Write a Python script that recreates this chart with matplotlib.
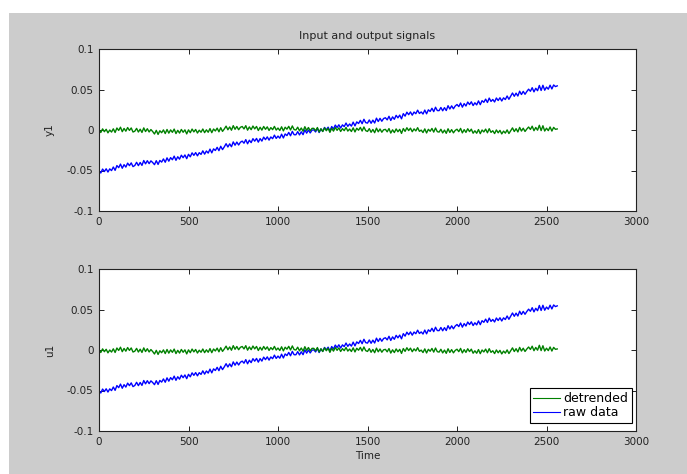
import matplotlib.pyplot as plt
import numpy as np
from matplotlib.patches import Rectangle

# raw output record, every 10th sample, in units of 1e-3
raw_milli = [
    -50.0, -53.1, -48.2, -51.3, -47.9, -51.9, -48.0, -50.1, -45.7, -49.8,
    -43.9, -46.5, -42.1, -47.2, -42.8, -45.8, -40.9, -44.0, -40.6, -45.2,
    -43.8, -39.9, -44.0, -40.1, -43.7, -37.7, -41.8, -37.9, -41.5, -38.1,
    -40.2, -42.8, -37.9, -42.5, -37.6, -39.6, -35.7, -39.8, -34.4, -38.5,
    -34.1, -36.7, -32.3, -37.4, -33.0, -36.0, -31.1, -34.2, -30.8, -35.4,
    -30.0, -33.1, -28.2, -31.3, -27.9, -31.9, -28.0, -30.1, -25.7, -29.8,
    -25.9, -28.5, -23.6, -28.2, -23.3, -25.3, -21.4, -25.5, -20.1, -24.2,
    -20.8, -16.9, -21.0, -17.1, -20.7, -14.7, -18.8, -14.9, -18.5, -15.1,
    -13.7, -16.3, -11.9, -17.0, -12.6, -15.6, -10.7, -13.8, -10.4, -15.0,
    -10.6, -13.7, -8.8, -11.9, -8.5, -12.5, -8.6, -10.7, -6.3, -10.4,
    -7.5, -10.1, -5.2, -9.8, -4.9, -6.9, -3.0, -7.1, -1.7, -5.8,
    -5.9, -2.0, -6.1, -2.2, -5.8, 0.2, -3.9, 0.0, -3.6, -0.2,
    0.2, -2.4, 2.0, -3.1, 1.3, -1.7, 3.2, 0.1, 3.5, -1.1,
    4.3, 1.2, 6.1, 3.0, 6.4, 2.4, 6.3, 4.2, 8.6, 4.5,
    7.4, 4.8, 9.7, 5.1, 10.0, 8.0, 11.9, 7.8, 13.2, 9.1,
    8.5, 12.4, 8.3, 12.2, 8.6, 14.6, 10.5, 14.4, 10.8, 14.2,
    15.1, 12.5, 16.9, 11.8, 16.2, 13.2, 18.1, 15.0, 18.4, 13.8,
    20.2, 17.1, 22.0, 18.9, 22.3, 18.3, 22.2, 20.1, 24.5, 20.4,
    22.3, 19.7, 24.6, 20.0, 24.9, 22.9, 26.8, 22.7, 28.1, 24.0,
    23.9, 27.8, 23.7, 27.6, 24.0, 30.0, 25.9, 29.8, 26.2, 29.6,
    31.5, 28.9, 33.3, 28.2, 32.6, 29.6, 34.5, 31.4, 34.8, 30.2,
    33.6, 31.0, 35.9, 31.3, 36.2, 34.2, 38.1, 34.0, 39.4, 35.3,
    37.7, 34.6, 39.5, 36.4, 39.8, 35.8, 39.7, 37.6, 42.0, 37.9,
    41.8, 45.7, 41.6, 45.5, 41.9, 47.9, 43.8, 47.7, 44.1, 47.5,
    50.4, 47.8, 52.2, 47.1, 51.5, 48.5, 55.0, 48.8, 55.2, 49.1,
    53.0, 50.4, 55.3, 50.7, 55.6, 53.6, 54.5,
]
sample_step = 10

xticks = [0, 500, 1000, 1500, 2000, 2500, 3000]
yticks = [-0.1, -0.05, 0, 0.05, 0.1]
ytick_labels = ['-0.1', '-0.05', '0', '0.05', '0.1']
channel_names = ['y1', 'u1']
legend_labels = ['detrended', 'raw data']

raw = np.array(raw_milli) * 1e-3
t = np.arange(len(raw)) * sample_step

# remove the least-squares straight line
coef = np.polyfit(t, raw, 1)
detrended = raw - np.polyval(coef, t)

W, H = 687, 474
fig = plt.figure(figsize=(W / 100, H / 100), dpi=100)
fig.add_artist(Rectangle((9 / W, 0), 1, 1 - 13 / H, transform=fig.transFigure,
                         facecolor='#cccccc', edgecolor='none', zorder=-10))

ax_left = 99 / W
ax_width = (636 - 99) / W
ax_height = 162 / H
tops = [49, 269]

axes = []
for top, name in zip(tops, channel_names):
    ax = fig.add_axes([ax_left, 1 - (top + 162) / H, ax_width, ax_height])
    ax.set_facecolor('white')
    h_raw, = ax.plot(t, raw, color='#0000ff', linewidth=1.0)
    h_det, = ax.plot(t, detrended, color='#008000', linewidth=1.0)
    ax.set_xlim(0, 3000)
    ax.set_ylim(-0.1, 0.1)
    ax.set_xticks(xticks)
    ax.set_xticklabels([str(v) for v in xticks])
    ax.set_yticks(yticks)
    ax.set_yticklabels(ytick_labels)
    ax.tick_params(direction='in', length=3.8, width=0.7, labelsize=7.5,
                   top=True, right=True, colors='#222222', pad=4)
    for sp in ax.spines.values():
        sp.set_color('#222222')
        sp.set_linewidth(0.8)
    ax.set_ylabel(name, fontsize=7.5, color='#222222')
    ax.yaxis.set_label_coords(-0.082, 0.5)
    axes.append(ax)

axes[0].set_title('Input and output signals', fontsize=8, color='#222222', pad=7)
axes[1].set_xlabel('Time', fontsize=7.5, color='#222222', labelpad=3)

leg = axes[1].legend([h_det, h_raw], legend_labels, loc='lower right',
                     bbox_to_anchor=(1 - 4 / 537, 8 / 162), borderaxespad=0,
                     fontsize=9, fancybox=False, framealpha=1, edgecolor='black',
                     handlelength=2.1, handletextpad=0.3, borderpad=0.3,
                     labelspacing=0.1)
leg.get_frame().set_linewidth(0.8)
for line in leg.get_lines():
    line.set_linewidth(0.8)

fig.savefig('out.png', dpi=100)
